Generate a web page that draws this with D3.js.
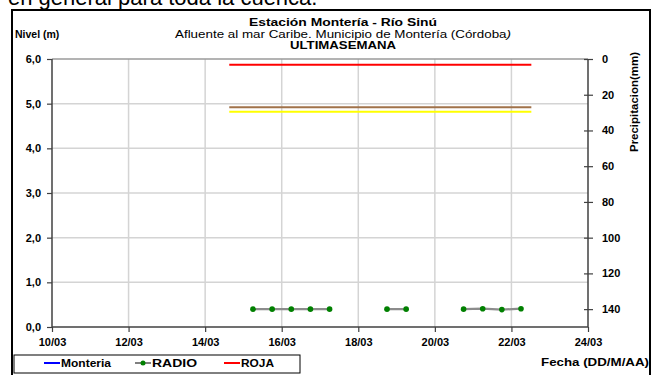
<!DOCTYPE html>
<html><head><meta charset="utf-8">
<script src="https://cdn.jsdelivr.net/npm/d3@7"></script>
<style>body{margin:0;background:#fff}svg{display:block;font-family:Arial,"Liberation Sans",sans-serif}</style>
</head><body><svg id="c" width="653" height="375"></svg>
<script>
// ---- data ----
const xTickDays = [10, 12, 14, 16, 18, 20, 22, 24];
const xTickLabels = ["10/03", "12/03", "14/03", "16/03", "18/03", "20/03", "22/03", "24/03"];
const yTicks = [0, 1, 2, 3, 4, 5, 6];
const yTickLabels = ["0,0", "1,0", "2,0", "3,0", "4,0", "5,0", "6,0"];
const precipTicks = [0, 20, 40, 60, 80, 100, 120, 140];
const radioDays = [15.25, 15.75, 16.25, 16.75, 17.25, 17.75, 18.25, 18.75, 19.25, 19.75, 20.25, 20.75, 21.25, 21.75, 22.25];
const radioValues = [0.40, 0.40, 0.40, 0.40, 0.40, null, null, 0.40, 0.40, null, null, 0.40, 0.41, 0.39, 0.41];
const thresholdDays = [14.63, 22.52];
const thresholdNames = ["ROJA", "NARANJA", "AMARILLA"];
const thresholdLevels = [5.87, 4.92, 4.82];
const thresholdColors = ["#ff0000", "#a0724a", "#ffff00"];
const legendNames = ["Monteria", "RADIO", "ROJA"];
const legendColors = ["#0000ff", "#808080", "#ff0000"];

// ---- layout ----
const svg = d3.select("#c");
const L = 52, R = 588, T = 59, B = 327;
const x = d3.scaleLinear().domain([10, 24]).range([L, R]);
const y = d3.scaleLinear().domain([0, 6]).range([B, T]);
const yp = d3.scaleLinear().domain([0, 150]).range([T, B]);

// top clipped text from the surrounding document
svg.append("text").attr("x", 8).attr("y", 5).attr("font-size", 22).text("en general para toda la cuenca.");

// frame
svg.append("rect").attr("x", 12).attr("y", 10).attr("width", 638).attr("height", 380)
  .attr("fill", "none").attr("stroke", "#000").attr("stroke-width", 2);

// grid
svg.append("g").selectAll("line").data(xTickDays.slice(1, -1)).join("line")
  .attr("x1", d => x(d)).attr("x2", d => x(d)).attr("y1", T).attr("y2", B)
  .attr("stroke", "#d4d4d4").attr("stroke-width", 1.5);
svg.append("g").selectAll("line").data(yTicks.slice(1)).join("line")
  .attr("x1", L).attr("x2", R).attr("y1", d => y(d)).attr("y2", d => y(d))
  .attr("stroke", d => d === 6 ? "#9a9a9a" : "#d4d4d4").attr("stroke-width", 1.5);

// axes
const ax = svg.append("g").attr("transform", `translate(0,${B})`)
  .call(d3.axisBottom(x).tickValues(xTickDays).tickFormat((d, i) => xTickLabels[i]).tickSize(5).tickPadding(6));
const ay = svg.append("g").attr("transform", `translate(${L},0)`)
  .call(d3.axisLeft(y).tickValues(yTicks).tickFormat((d, i) => yTickLabels[i]).tickSize(5).tickPadding(6));
const ap = svg.append("g").attr("transform", `translate(${R},0)`)
  .call(d3.axisRight(yp).tickValues(precipTicks).tickSizeInner(5).tickSizeOuter(0).tickPadding(9));
ap.selectAll(".tick line").attr("x1", -4);
[ax, ay, ap].forEach(g => {
  g.selectAll(".domain").attr("stroke", "#404040").attr("stroke-width", 1.5);
  g.selectAll(".tick line").attr("stroke", "#404040").attr("stroke-width", 1.2);
  g.selectAll("text").attr("font-size", 11).attr("font-weight", "bold").attr("fill", "#000")
    .attr("font-family", "Arial, 'Liberation Sans', sans-serif");
});
ax.select(".domain").attr("d", `M${L},0H${R}`);
ay.select(".domain").attr("d", `M0,${B}V${T}`);
ap.select(".domain").attr("d", `M0,${T}V${B}`);

// threshold lines
svg.append("g").selectAll("line").data(thresholdLevels).join("line")
  .attr("x1", x(thresholdDays[0])).attr("x2", x(thresholdDays[1]))
  .attr("y1", d => y(d)).attr("y2", d => y(d))
  .attr("stroke", (d, i) => thresholdColors[i]).attr("stroke-width", 2);

// RADIO series
const radio = radioDays.map((d, i) => ({ d, v: radioValues[i] }));
svg.append("path").datum(radio)
  .attr("d", d3.line().defined(p => p.v !== null).x(p => x(p.d)).y(p => y(p.v)))
  .attr("fill", "none").attr("stroke", "#8c8c8c").attr("stroke-width", 2.2);
svg.append("g").selectAll("circle").data(radio.filter(p => p.v !== null)).join("circle")
  .attr("cx", p => x(p.d)).attr("cy", p => y(p.v)).attr("r", 2.8).attr("fill", "#008000");

// titles
const tc = 343;
const sq = (sel, w) => sel.attr("textLength", w).attr("lengthAdjust", "spacingAndGlyphs");
sq(svg.append("text").attr("x", tc).attr("y", 26).attr("text-anchor", "middle").attr("font-size", 10.5).attr("font-weight", "bold").text("Estación Montería  - Río Sinú"), 188);
sq(svg.append("text").attr("x", tc).attr("y", 38).attr("text-anchor", "middle").attr("font-size", 10.5).html("Afluente al mar Caribe. Municipio de Montería (Córdoba<tspan font-style='italic'>)</tspan>"), 336);
sq(svg.append("text").attr("x", tc).attr("y", 49).attr("text-anchor", "middle").attr("font-size", 10.5).attr("font-weight", "bold").text("ULTIMASEMANA"), 106);
svg.append("text").attr("x", 15).attr("y", 38).attr("font-size", 10.5).attr("font-weight", "bold").text("Nivel (m)");
sq(svg.append("text").attr("transform", "translate(638,102) rotate(-90)").attr("text-anchor", "middle").attr("font-size", 10.5).attr("font-weight", "bold").text("Precipitacion(mm)"), 100);
sq(svg.append("text").attr("x", 649).attr("y", 366).attr("text-anchor", "end").attr("font-size", 10.5).attr("font-weight", "bold").text("Fecha (DD/M/AA)"), 108);

// legend
const lg = svg.append("g");
lg.append("rect").attr("x", 14).attr("y", 355).attr("width", 286).attr("height", 18).attr("fill", "#fff").attr("stroke", "#000").attr("stroke-width", 1);
const lx = [44, 135, 224];
const lw = [50, 45, 33];
legendNames.forEach((n, i) => {
  lg.append("line").attr("x1", lx[i]).attr("x2", lx[i] + 16).attr("y1", 363).attr("y2", 363).attr("stroke", legendColors[i]).attr("stroke-width", 2);
  if (n === "RADIO") lg.append("circle").attr("cx", lx[i] + 8).attr("cy", 363).attr("r", 2.5).attr("fill", "#008000");
  sq(lg.append("text").attr("x", lx[i] + 17).attr("y", 367).attr("font-size", 10.5).attr("font-weight", "bold").text(n), lw[i]);
});
</script></body></html>
